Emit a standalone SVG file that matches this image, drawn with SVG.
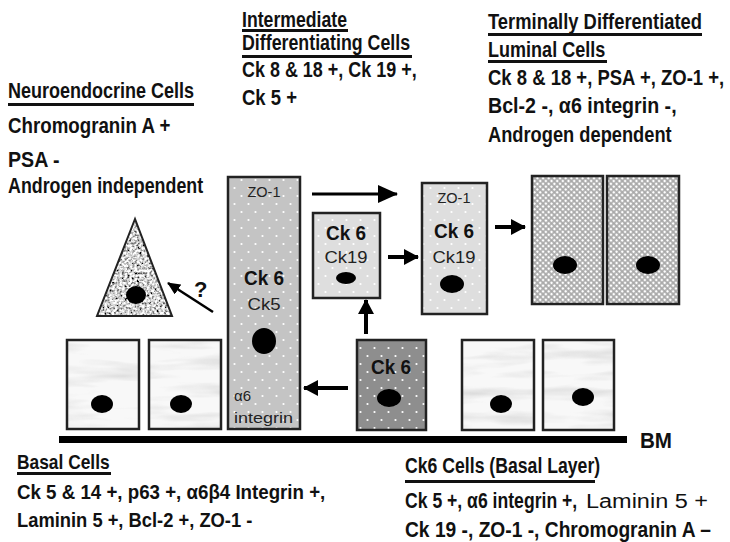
<svg xmlns="http://www.w3.org/2000/svg" width="730" height="542" viewBox="0 0 730 542">
  <style>
    .hd { font-family: "Liberation Sans", Arial, sans-serif; font-weight: bold; font-size: 22px; fill: #111; }
    .lo { font-size: 20px; }
    .plain { font-family: "Liberation Sans", Arial, sans-serif; font-size: 20px; fill: #111; }
    .ul { fill: #111; }
    .cell { stroke: #222; stroke-width: 2.5; }
    .ck6 { font-family: "Liberation Sans", Arial, sans-serif; font-weight: bold; font-size: 21px; fill: #111; text-anchor: middle; }
    .ck { font-family: "Liberation Sans", Arial, sans-serif; font-size: 16px; fill: #222; text-anchor: middle; }
    .zo { font-family: "Liberation Sans", Arial, sans-serif; font-size: 15px; fill: #222; text-anchor: middle; }
    .sm { font-family: "Liberation Sans", Arial, sans-serif; font-size: 15px; fill: #222; }
    .nuc { fill: #000; }
    .arr { stroke: #000; fill: none; }
  </style>
  <defs>
    <pattern id="dots" width="14" height="16" patternUnits="userSpaceOnUse">
      <circle cx="3.5" cy="4" r="1.1" fill="#fff"/>
      <circle cx="10.5" cy="12" r="1.1" fill="#fff"/>
    </pattern>
    <pattern id="checks" width="4" height="4" patternUnits="userSpaceOnUse" patternTransform="rotate(45)">
      <rect width="4" height="4" fill="#a9a9a9"/>
      <circle cx="2" cy="2" r="1.35" fill="#fff"/>
    </pattern>
    <filter id="marble" x="0" y="0" width="1" height="1">
      <feTurbulence type="fractalNoise" baseFrequency="0.012 0.08" numOctaves="3" seed="5" result="n"/>
      <feColorMatrix in="n" type="matrix" values="0 0 0 0 0.5  0 0 0 0 0.5  0 0 0 0 0.5  1.1 0 0 0 -0.5" result="m"/>
      <feComposite in="m" in2="SourceGraphic" operator="in"/>
    </filter>
    <filter id="speckle" x="0" y="0" width="1" height="1">
      <feTurbulence type="fractalNoise" baseFrequency="0.4" numOctaves="2" seed="2" result="n"/>
      <feColorMatrix in="n" type="matrix" values="2.4 0 0 0 -0.55  2.4 0 0 0 -0.55  2.4 0 0 0 -0.55  0 0 0 0 1" result="g"/>
      <feComposite in="g" in2="SourceGraphic" operator="in"/>
    </filter>
    <marker id="head" markerUnits="userSpaceOnUse" markerWidth="20" markerHeight="18" viewBox="0 0 20 18" refX="19" refY="9" orient="auto">
      <path d="M0,0 L20,9 L0,18 z" fill="#000"/>
    </marker>
    <marker id="headS" markerUnits="userSpaceOnUse" markerWidth="15" markerHeight="16" viewBox="0 0 15 16" refX="14" refY="8" orient="auto">
      <path d="M0,0 L15,8 L0,16 z" fill="#000"/>
    </marker>
    <marker id="headQ" markerUnits="userSpaceOnUse" markerWidth="13" markerHeight="12" viewBox="0 0 13 12" refX="12" refY="6" orient="auto">
      <path d="M0,0 L13,6 L0,12 z" fill="#000"/>
    </marker>
  </defs>

  <rect width="730" height="542" fill="#fff"/>

  <!-- Neuroendocrine heading (condensed via horizontal scale) -->
  <g id="label-neuroendocrine">
    <text class="hd" transform="translate(8,98) scale(0.82,1)" textLength="227" lengthAdjust="spacingAndGlyphs">Neuroendocrine Cells</text>
    <rect class="ul" x="8" y="103" width="186" height="3"/>
    <text class="hd" transform="translate(8,133) scale(0.82,1)" textLength="198" lengthAdjust="spacingAndGlyphs">Chromogranin A +</text>
    <text class="hd" transform="translate(8,167) scale(0.82,1)" textLength="63" lengthAdjust="spacingAndGlyphs">PSA -</text>
    <text class="hd" transform="translate(8,193) scale(0.82,1)" textLength="238" lengthAdjust="spacingAndGlyphs">Androgen independent</text>
  </g>

  <!-- Intermediate heading -->
  <g id="label-intermediate">
    <text class="hd" transform="translate(242,27) scale(0.82,1)" textLength="128" lengthAdjust="spacingAndGlyphs">Intermediate</text>
    <rect class="ul" x="242" y="29" width="106" height="3"/>
    <text class="hd" transform="translate(242,50) scale(0.82,1)" textLength="205" lengthAdjust="spacingAndGlyphs">Differentiating Cells</text>
    <rect class="ul" x="242" y="55" width="170" height="3"/>
    <text class="hd" transform="translate(242,77) scale(0.82,1)" textLength="213" lengthAdjust="spacingAndGlyphs">Ck 8 &amp; 18 +, Ck 19 +,</text>
    <text class="hd" transform="translate(242,105) scale(0.82,1)" textLength="67" lengthAdjust="spacingAndGlyphs">Ck 5 +</text>
  </g>

  <!-- Terminal luminal heading -->
  <g id="label-luminal">
    <text class="hd" transform="translate(488,29) scale(0.82,1)" textLength="261" lengthAdjust="spacingAndGlyphs">Terminally Differentiated</text>
    <rect class="ul" x="488" y="33" width="214" height="3"/>
    <text class="hd" transform="translate(488,57) scale(0.82,1)" textLength="143" lengthAdjust="spacingAndGlyphs">Luminal Cells</text>
    <rect class="ul" x="488" y="60" width="119" height="3"/>
    <text class="hd" transform="translate(488,85) scale(0.82,1)" textLength="288" lengthAdjust="spacingAndGlyphs">Ck 8 &amp; 18 +, PSA +, ZO-1 +,</text>
    <text class="hd" transform="translate(488,113) scale(0.82,1)" textLength="230" lengthAdjust="spacingAndGlyphs">Bcl-2 -, α6 integrin -,</text>
    <text class="hd" transform="translate(488,142) scale(0.82,1)" textLength="224" lengthAdjust="spacingAndGlyphs">Androgen dependent</text>
  </g>

  <!-- Neuroendocrine cell -->
  <g id="neuroendocrine-cell">
    <polygon points="135,219 97,316 172,316" fill="#ccc" filter="url(#speckle)"/>
    <polygon points="135,219 97,316 172,316" fill="none" stroke="#222" stroke-width="2"/>
    <ellipse class="nuc" cx="136" cy="295" rx="10" ry="9"/>
  </g>

  <!-- Basal cells, left -->
  <g id="basal-cell-1">
    <rect x="67" y="340" width="72" height="89" fill="#f8f8f8"/>
    <rect x="67" y="340" width="72" height="89" fill="#fff" filter="url(#marble)"/>
    <rect class="cell" x="67" y="340" width="72" height="89" fill="none"/>
    <ellipse class="nuc" cx="102" cy="404" rx="11" ry="9"/>
  </g>
  <g id="basal-cell-2">
    <rect x="149" y="340" width="72" height="89" fill="#f8f8f8"/>
    <rect x="149" y="340" width="72" height="89" fill="#fff" filter="url(#marble)"/>
    <rect class="cell" x="149" y="340" width="72" height="89" fill="none"/>
    <ellipse class="nuc" cx="181" cy="404" rx="11" ry="9"/>
  </g>

  <!-- Intermediate Ck6/Ck5 cell -->
  <g id="ck6-ck5-cell">
    <rect x="228" y="177" width="72" height="252" fill="#c4c4c4"/>
    <rect x="228" y="177" width="72" height="252" fill="url(#dots)"/>
    <rect class="cell" x="228" y="177" width="72" height="252" fill="none"/>
    <text class="zo" x="264" y="197" textLength="33" lengthAdjust="spacingAndGlyphs">ZO-1</text>
    <text class="ck6" x="264" y="285" textLength="40" lengthAdjust="spacingAndGlyphs">Ck 6</text>
    <text class="ck" x="264" y="310" textLength="33" lengthAdjust="spacingAndGlyphs">Ck5</text>
    <ellipse class="nuc" cx="264" cy="341" rx="12" ry="13"/>
    <text class="sm" x="234" y="401">α6</text>
    <text class="sm" x="234" y="423" textLength="59" lengthAdjust="spacingAndGlyphs">integrin</text>
  </g>

  <!-- Ck6 / Ck19 cell -->
  <g id="ck6-ck19-cell">
    <rect x="313" y="213" width="67" height="85" fill="#dedede"/>
    <rect x="313" y="213" width="67" height="85" fill="url(#dots)"/>
    <rect class="cell" x="313" y="213" width="67" height="85" fill="none"/>
    <text class="ck6" x="346" y="240" textLength="40" lengthAdjust="spacingAndGlyphs">Ck 6</text>
    <text class="ck" x="346" y="263" textLength="43" lengthAdjust="spacingAndGlyphs">Ck19</text>
    <ellipse class="nuc" cx="346" cy="278" rx="10" ry="6"/>
  </g>

  <!-- ZO-1 / Ck6 / Ck19 cell -->
  <g id="zo1-ck6-ck19-cell">
    <rect x="422" y="183" width="65" height="131" fill="#dedede"/>
    <rect x="422" y="183" width="65" height="131" fill="url(#dots)"/>
    <rect class="cell" x="422" y="183" width="65" height="131" fill="none"/>
    <text class="zo" x="454" y="203" textLength="33" lengthAdjust="spacingAndGlyphs">ZO-1</text>
    <text class="ck6" x="454" y="238" textLength="40" lengthAdjust="spacingAndGlyphs">Ck 6</text>
    <text class="ck" x="454" y="263" textLength="43" lengthAdjust="spacingAndGlyphs">Ck19</text>
    <ellipse class="nuc" cx="452" cy="284" rx="12" ry="9"/>
  </g>

  <!-- Ck6 basal-layer cell -->
  <g id="ck6-basal-cell">
    <rect x="357" y="340" width="69" height="90" fill="#8e8e8e"/>
    <rect x="357" y="340" width="69" height="90" fill="url(#dots)"/>
    <rect class="cell" x="357" y="340" width="69" height="90" fill="none"/>
    <text class="ck6" x="391" y="374" textLength="40" lengthAdjust="spacingAndGlyphs">Ck 6</text>
    <ellipse class="nuc" cx="389" cy="398" rx="12" ry="9"/>
  </g>

  <!-- Terminal luminal cells -->
  <g id="luminal-cell-1">
    <rect class="cell" x="532" y="176" width="71" height="128" fill="url(#checks)"/>
    <ellipse class="nuc" cx="565" cy="265" rx="12" ry="9"/>
  </g>
  <g id="luminal-cell-2">
    <rect class="cell" x="607" y="176" width="72" height="128" fill="url(#checks)"/>
    <ellipse class="nuc" cx="648" cy="265" rx="12" ry="9"/>
  </g>

  <!-- Basal cells, right -->
  <g id="basal-cell-3">
    <rect x="462" y="340" width="72" height="90" fill="#f8f8f8"/>
    <rect x="462" y="340" width="72" height="90" fill="#fff" filter="url(#marble)"/>
    <rect class="cell" x="462" y="340" width="72" height="90" fill="none"/>
    <ellipse class="nuc" cx="501" cy="404" rx="11" ry="9"/>
  </g>
  <g id="basal-cell-4">
    <rect x="543" y="340" width="71" height="90" fill="#f8f8f8"/>
    <rect x="543" y="340" width="71" height="90" fill="#fff" filter="url(#marble)"/>
    <rect class="cell" x="543" y="340" width="71" height="90" fill="none"/>
    <ellipse class="nuc" cx="583" cy="397" rx="11" ry="9"/>
  </g>

  <!-- Basement membrane -->
  <g id="basement-membrane">
    <rect x="59" y="436" width="568" height="7" fill="#000"/>
    <text x="640" y="448" font-family="Liberation Sans, Arial, sans-serif" font-weight="bold" font-size="22" fill="#111" textLength="32" lengthAdjust="spacingAndGlyphs">BM</text>
  </g>

  <!-- Connectors -->
  <g id="connectors">
    <line class="arr" x1="312" y1="194" x2="397" y2="194" stroke-width="3" marker-end="url(#head)"/>
    <line class="arr" x1="388" y1="257" x2="418" y2="257" stroke-width="4" marker-end="url(#headS)"/>
    <line class="arr" x1="495" y1="227" x2="525" y2="227" stroke-width="4" marker-end="url(#headS)"/>
    <line class="arr" x1="366" y1="334" x2="366" y2="300" stroke-width="4" marker-end="url(#headS)"/>
    <line class="arr" x1="348" y1="388" x2="304" y2="388" stroke-width="4" marker-end="url(#headS)"/>
    <line class="arr" x1="213" y1="312" x2="168" y2="283" stroke-width="2.5" marker-end="url(#headQ)"/>
    <text class="hd" x="194" y="297" font-size="17">?</text>
  </g>

  <!-- Basal cell heading -->
  <g id="label-basal">
    <text class="hd lo" transform="translate(17,469) scale(0.82,1)" textLength="113" lengthAdjust="spacingAndGlyphs">Basal Cells</text>
    <rect class="ul" x="17" y="472" width="94" height="3"/>
    <text class="hd lo" transform="translate(17,499) scale(0.82,1)" textLength="376" lengthAdjust="spacingAndGlyphs">Ck 5 &amp; 14 +, p63 +, α6β4 Integrin +,</text>
    <text class="hd lo" transform="translate(17,527) scale(0.82,1)" textLength="287" lengthAdjust="spacingAndGlyphs">Laminin 5 +, Bcl-2 +, ZO-1 -</text>
  </g>

  <!-- Ck6 cell heading -->
  <g id="label-ck6">
    <text class="hd" transform="translate(405,473) scale(0.82,1)" font-size="21" textLength="238" lengthAdjust="spacingAndGlyphs">Ck6 Cells (Basal Layer)</text>
    <rect class="ul" x="405" y="480" width="190" height="3"/>
    <text class="hd" transform="translate(405,508) scale(0.82,1)" font-size="21" textLength="210" lengthAdjust="spacingAndGlyphs">Ck 5 +, α6 integrin +,</text>
    <text class="plain" x="586" y="508" font-size="20" textLength="122" lengthAdjust="spacingAndGlyphs">Laminin 5 +</text>
    <text class="hd" transform="translate(405,537) scale(0.82,1)" font-size="21" textLength="373" lengthAdjust="spacingAndGlyphs">Ck 19 -, ZO-1 -, Chromogranin A –</text>
  </g>
</svg>
